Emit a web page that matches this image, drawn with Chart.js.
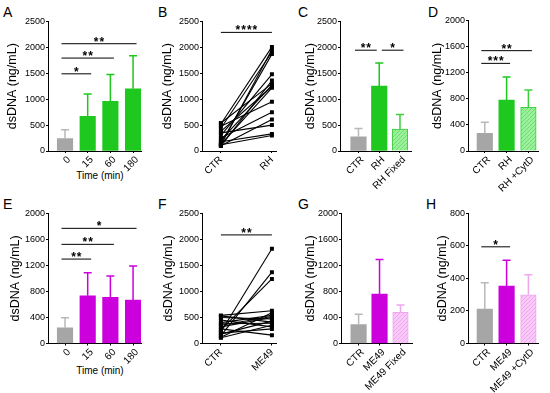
<!DOCTYPE html>
<html>
<head>
<meta charset="utf-8">
<script src="https://cdn.jsdelivr.net/npm/chart.js@4"></script>
<style>
  body { margin: 0; width: 550px; height: 393px; position: relative; overflow: hidden; background: #fff;
         font-family: "Liberation Sans", Arial, sans-serif; }
  canvas { position: absolute; }
  .letter { position: absolute; font-size: 14px; line-height: 14px; color: #000; }
  .xtitle { position: absolute; width: 100px; text-align: center; font-size: 10px; line-height: 12px; color: #000; }
</style>
</head>
<body>
<div class="letter" style="left:3px;top:5px">A</div>
<div class="letter" style="left:158px;top:5px">B</div>
<div class="letter" style="left:298px;top:5px">C</div>
<div class="letter" style="left:428px;top:5px">D</div>
<div class="letter" style="left:3px;top:197px">E</div>
<div class="letter" style="left:158px;top:197px">F</div>
<div class="letter" style="left:298px;top:197px">G</div>
<div class="letter" style="left:426px;top:197px">H</div>
<div class="xtitle" style="left:50px;top:170px">Time (min)</div>
<div class="xtitle" style="left:50px;top:365px">Time (min)</div>

<script>
"use strict";

// ---- data ----
const timeLabels = ["0", "15", "60", "180"];

const aMean = [240, 670, 960, 1200];
const aErr = [170, 430, 515, 640];
const aSig = [[0, 1, 1490, "*"], [0, 2, 1794, "**"], [0, 3, 2071, "**"]];

const bLabels = ["CTR", "RH"];
const bCtr = [520, 110, 440, 150, 300, 95, 540, 210, 380, 130, 480, 250, 100, 350, 180, 120];
const bRh = [2010, 1960, 1910, 1870, 1480, 1360, 1300, 1270, 1240, 1220, 950, 750, 610, 500, 330, 300];
const bSig = [[0, 1, 2290, "****"]];

const cLabels = ["CTR", "RH", "RH Fixed"];
const cMean = [275, 1253, 422];
const cErr = [160, 447, 281];
const cSig = [[0, 1, 1946, "**"], [1, 2, 1946, "*"]];

const dLabels = ["CTR", "RH", "RH +CytD"];
const dMean = [271, 783, 670];
const dErr = [169, 352, 266];
const dSig = [[0, 1, 1345, "***"], [0, 2, 1540, "**"]];

const eMean = [241, 733, 708, 667];
const eErr = [154, 354, 328, 523];
const eSig = [[0, 1, 1297, "**"], [0, 2, 1523, "**"], [0, 3, 1769, "*"]];

const fLabels = ["CTR", "ME49"];
const fCtr = [220, 150, 260, 540, 120, 400, 320, 500, 180, 380, 110, 450, 280, 350, 200, 530];
const fMe49 = [1820, 1370, 1240, 630, 590, 540, 500, 470, 430, 390, 350, 320, 160, 520, 280, 410];
const fSig = [[0, 1, 2085, "**"]];

const gLabels = ["CTR", "ME49", "ME49 Fixed"];
const gMean = [292, 759, 477];
const gErr = [159, 533, 113];

const hLabels = ["CTR", "ME49", "ME49 +CytD"];
const hMean = [212, 353, 299];
const hErr = [161, 158, 124];
const hSig = [[0, 1, 594, "*"]];

// ---- styles ----
const FONT = '"Liberation Sans", Arial, sans-serif';
Chart.defaults.font.family = FONT;
Chart.defaults.color = "#000";

const GRAY = "#a6a6a6", GRAY_ERR = "#b8b8b8";
const GREEN = "#1ec81e", MAG = "#cc00dd";
const GREEN_LINE = "#3ccf3c", PINK_LINE = "#eea6ee";

function hatch(base, stripe) {
  const c = document.createElement("canvas");
  c.width = c.height = 4;
  const g = c.getContext("2d");
  g.fillStyle = base;
  g.fillRect(0, 0, 4, 4);
  g.strokeStyle = stripe;
  g.lineWidth = 1;
  g.beginPath();
  g.moveTo(-1, 5); g.lineTo(5, -1);
  g.moveTo(-1, 1); g.lineTo(1, -1);
  g.moveTo(3, 5); g.lineTo(5, 3);
  g.stroke();
  return g.createPattern(c, "repeat");
}
const GREEN_H = hatch("#9cef9c", "#6adf6a");
const PINK_H = hatch("#f8caf8", "#f0a6f0");

const YTICK_FONT = { size: 9 };
const XTICK_FONT = { size: 10 };
const TITLE_FONT = { size: 12.5 };

// ---- plugins ----
const errPlugin = {
  id: "errbars",
  afterDatasetsDraw(chart) {
    const ctx = chart.ctx, y = chart.scales.y;
    chart.data.datasets.forEach((ds, di) => {
      if (!ds.err) return;
      chart.getDatasetMeta(di).data.forEach((bar, i) => {
        const tp = y.getPixelForValue(ds.data[i].y + ds.err[i]);
        ctx.save();
        ctx.strokeStyle = ds.errColor[i];
        ctx.lineWidth = 1.5;
        ctx.beginPath();
        ctx.moveTo(bar.x, bar.y);
        ctx.lineTo(bar.x, tp);
        ctx.moveTo(bar.x - 4, tp);
        ctx.lineTo(bar.x + 4, tp);
        ctx.stroke();
        ctx.restore();
      });
    });
  },
};

function sigPlugin(list, pad) {
  return {
    id: "sig",
    afterDraw(chart) {
      const ctx = chart.ctx, x = chart.scales.x, y = chart.scales.y;
      list.forEach(([from, to, val, label]) => {
        let l = x.getPixelForValue(from) - pad;
        let r = x.getPixelForValue(to) + pad;
        // adjacent comparisons at the same height leave a small gap
        if (list.some((s) => s[2] === val && s[0] === to)) r = x.getPixelForValue(to) - 2.5;
        if (list.some((s) => s[2] === val && s[1] === from)) l = x.getPixelForValue(from) + 2.5;
        const py = y.getPixelForValue(val);
        ctx.save();
        ctx.strokeStyle = "#000";
        ctx.lineWidth = 1;
        ctx.beginPath();
        ctx.moveTo(l, py);
        ctx.lineTo(r, py);
        ctx.stroke();
        ctx.fillStyle = "#000";
        ctx.font = "bold 12px " + FONT;
        ctx.letterSpacing = "1px";
        ctx.textAlign = "center";
        ctx.textBaseline = "alphabetic";
        ctx.fillText(label, (l + r) / 2 + 0.5, py + 2);
        ctx.restore();
      });
    },
  };
}

// ---- layout helpers ----
function makeCanvas(box) {
  const c = document.createElement("canvas");
  c.width = box.w;
  c.height = box.h;
  c.style.left = box.l + "px";
  c.style.top = box.t + "px";
  document.body.appendChild(c);
  return c;
}

function baseOptions(p, labels, labelShift) {
  const lh = TITLE_FONT.size * 1.2;
  const pl = p.titleX - p.box.l - lh / 2;
  return {
    responsive: false,
    animation: false,
    events: [],
    layout: { padding: { left: pl, top: p.yTop - p.box.t, right: p.box.l + p.box.w - p.axisR, bottom: 0 } },
    plugins: { legend: { display: false }, tooltip: { enabled: false } },
    scales: {
      x: {
        type: "linear",
        min: p.xMin,
        max: p.xMax,
        offset: false,
        afterBuildTicks: (s) => { s.ticks = labels.map((_, i) => ({ value: i })); },
        afterFit: (s) => { s.height = p.box.t + p.box.h - p.yZero; },
        ticks: {
          callback: (v) => labels[v], minRotation: 45, maxRotation: 45, autoSkip: false,
          font: XTICK_FONT, padding: 1, labelOffset: labelShift, color: "#000",
        },
        grid: { drawOnChartArea: false, drawTicks: true, tickLength: 2, color: "#000", offset: false },
        border: { color: "#000", width: 1 },
      },
      y: {
        min: 0,
        max: p.yMax,
        afterFit: (s) => { s.width = p.axisX - p.box.l - pl; },
        ticks: { stepSize: p.step, callback: (v) => String(v), font: YTICK_FONT, padding: 1, color: "#000" },
        grid: { drawOnChartArea: false, tickLength: 2, color: "#000" },
        border: { color: "#000", width: 1 },
        title: { display: true, text: "dsDNA (ng/mL)", font: TITLE_FONT, padding: 0, color: "#000" },
      },
    },
  };
}

function barChart(p, labels, mean, err, fills, borders, errColors, sig) {
  new Chart(makeCanvas(p.box), {
    type: "bar",
    data: {
      datasets: [{
        data: mean.map((v, i) => ({ x: i, y: v })),
        err,
        errColor: errColors,
        backgroundColor: fills,
        borderColor: borders,
        borderWidth: borders.map((b) => (b ? 1 : 0)),
        borderSkipped: "bottom",
        barThickness: 15.5,
      }],
    },
    options: baseOptions(p, labels, 4),
    plugins: [errPlugin, sigPlugin(sig, 3.5)],
  });
}

function pairedChart(p, labels, before, after, sig) {
  new Chart(makeCanvas(p.box), {
    type: "line",
    data: {
      datasets: before.map((v, i) => ({
        data: [{ x: 0, y: v }, { x: 1, y: after[i] }],
        borderColor: "#000",
        borderWidth: 1.1,
        pointStyle: "rect",
        pointRadius: 2.8,
        pointBackgroundColor: "#000",
        pointBorderWidth: 0,
        tension: 0,
      })),
    },
    options: baseOptions(p, labels, 0),
    plugins: [sigPlugin(sig, 0)],
  });
}

// ---- panels ----
const rowTop = { yTop: 21.5, yZero: 151 };
const rowBot = { yTop: 213.3, yZero: 343.5 };

barChart(
  { box: { l: 0, t: 0, w: 150, h: 190 }, axisX: 48, axisR: 141, xMin: -0.75, xMax: 3.35, yMax: 2500, step: 500, titleX: 12.5, ...rowTop },
  timeLabels, aMean, aErr,
  [GRAY, GREEN, GREEN, GREEN], [null, null, null, null], [GRAY_ERR, GREEN, GREEN, GREEN], aSig
);

pairedChart(
  { box: { l: 150, t: 0, w: 132, h: 194 }, axisX: 202, axisR: 276, xMin: -0.37, xMax: 1.08, yMax: 2500, step: 500, titleX: 167.5, ...rowTop },
  bLabels, bCtr, bRh, bSig
);

barChart(
  { box: { l: 290, t: 0, w: 125, h: 198 }, axisX: 340, axisR: 411, xMin: -0.89, xMax: 2.53, yMax: 2500, step: 500, titleX: 311, ...rowTop },
  cLabels, cMean, cErr,
  [GRAY, GREEN, GREEN_H], [null, null, GREEN_LINE], [GRAY_ERR, GREEN, GREEN_LINE], cSig
);

barChart(
  { box: { l: 420, t: 0, w: 130, h: 198 }, axisX: 468, axisR: 538, xMin: -0.77, xMax: 2.44, yMax: 2000, step: 400, titleX: 437.5, yTop: 20.7, yZero: 151 },
  dLabels, dMean, dErr,
  [GRAY, GREEN, GREEN_H], [null, null, GREEN_LINE], [GRAY_ERR, GREEN, GREEN_LINE], dSig
);

barChart(
  { box: { l: 0, t: 195, w: 150, h: 190 }, axisX: 48, axisR: 141, xMin: -0.75, xMax: 3.35, yMax: 2000, step: 400, titleX: 16, ...rowBot },
  timeLabels, eMean, eErr,
  [GRAY, MAG, MAG, MAG], [null, null, null, null], [GRAY_ERR, MAG, MAG, MAG], eSig
);

pairedChart(
  { box: { l: 150, t: 195, w: 132, h: 198 }, axisX: 202, axisR: 276, xMin: -0.37, xMax: 1.08, yMax: 2500, step: 500, titleX: 168.5, ...rowBot },
  fLabels, fCtr, fMe49, fSig
);

barChart(
  { box: { l: 290, t: 195, w: 125, h: 198 }, axisX: 341, axisR: 412, xMin: -0.84, xMax: 2.55, yMax: 2000, step: 400, titleX: 311, ...rowBot },
  gLabels, gMean, gErr,
  [GRAY, MAG, PINK_H], [null, null, PINK_LINE], [GRAY_ERR, MAG, PINK_LINE], []
);

barChart(
  { box: { l: 420, t: 195, w: 130, h: 198 }, axisX: 468, axisR: 538, xMin: -0.77, xMax: 2.44, yMax: 800, step: 200, titleX: 442.5, ...rowBot },
  hLabels, hMean, hErr,
  [GRAY, MAG, PINK_H], [null, null, PINK_LINE], [GRAY_ERR, MAG, PINK_LINE], hSig
);
</script>
</body>
</html>
